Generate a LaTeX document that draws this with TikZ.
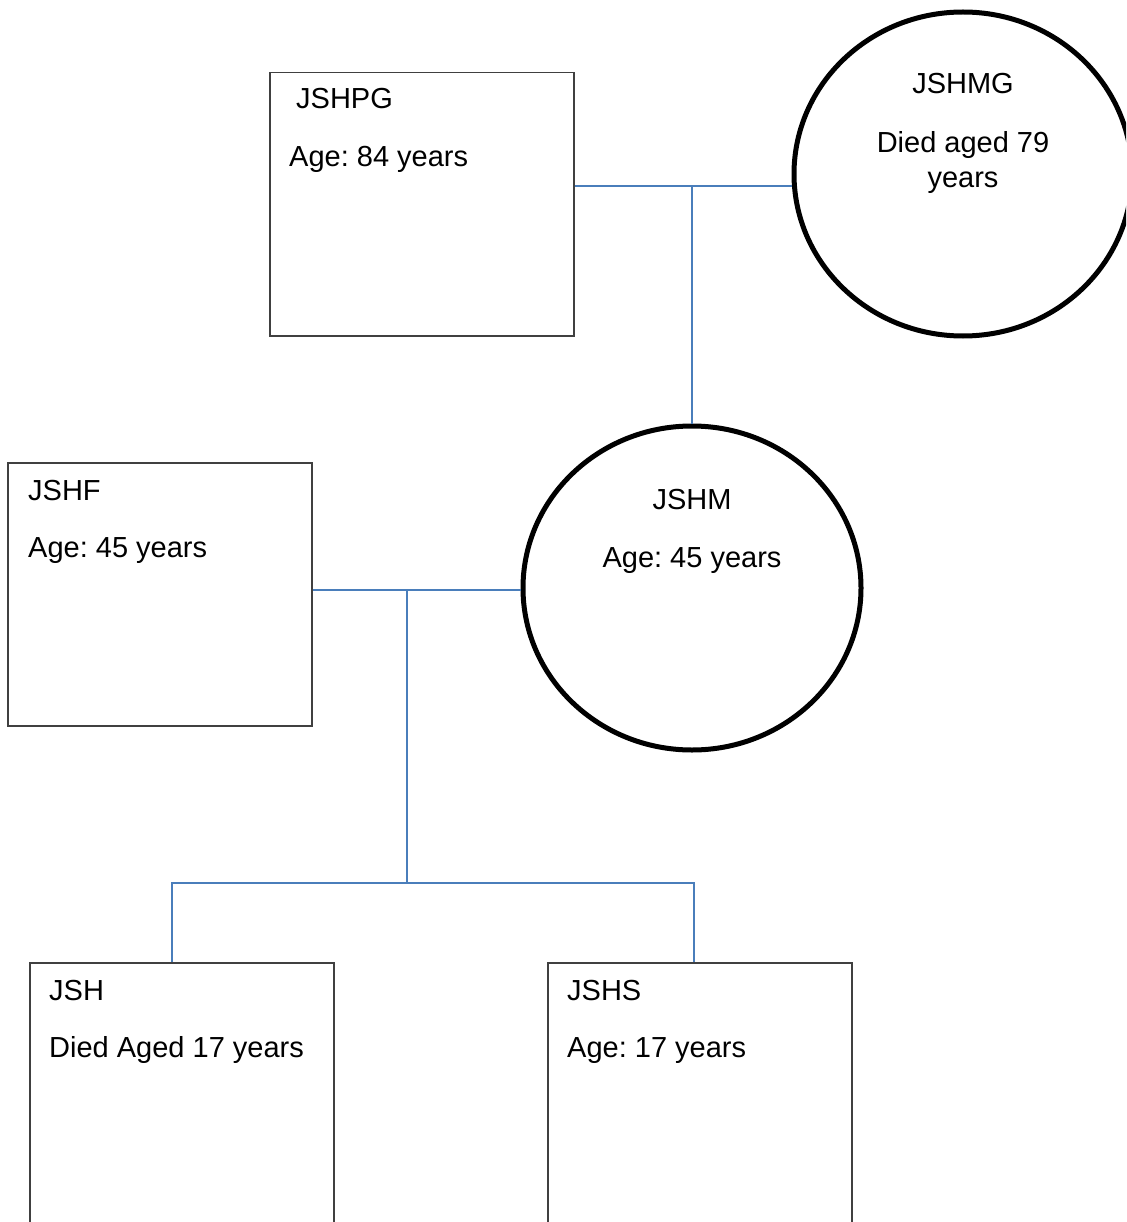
\documentclass[tikz,border=0pt]{standalone}
\usepackage{fontspec}
\setmainfont{Liberation Sans}
\usepackage{xcolor}
\usepackage{tikz}
\usetikzlibrary{shapes.geometric}
\frenchspacing
\definecolor{Linienblau}{RGB}{74,126,187}
\definecolor{Rahmengrau}{RGB}{64,64,64}
\tikzset{
  Kasten/.style={rectangle, draw=Rahmengrau, line width=1.5pt, anchor=north west,
    minimum width=304pt, minimum height=263pt, inner sep=0pt}, % für Männer
  Kreis/.style={ellipse, draw=black, line width=5pt,
    minimum width=338pt, minimum height=324pt, inner sep=0pt}, % für Frauen
  Text/.style={inner sep=0pt, font=\fontsize{29}{35}\selectfont}, % für Beschriftung
  Linie/.style={draw=Linienblau, line width=2pt} % für Verbindungen
}

\begin{document}
\begin{tikzpicture}[x=1pt, y=-1pt]
\useasboundingbox (0,0) rectangle (1126,1222);
\clip (0,0) rectangle (1126,1222);

%Personen
\node[Kasten] (JSHPG) at (269,72) {};
\node[Kreis] (JSHMG) at (963,174) {};
\node[Kasten] (JSHF) at (7,462) {};
\node[Kreis] (JSHM) at (692,588) {};
\node[Kasten] (JSH) at (29,962) {};
\node[Kasten] (JSHS) at (547,962) {};

%Beschriftung
\node[Text, anchor=base west] (JSHPG-Name) at ([shift={(27,37)}]JSHPG.north west) {JSHPG};
\node[Text, anchor=base west] (JSHPG-Alter) at ([shift={(20,95)}]JSHPG.north west) {Age: 84 years};
\node[Text, anchor=base] (JSHMG-Name) at ([shift={(0,-80)}]JSHMG.center) {JSHMG};
\node[Text, anchor=base] (JSHMG-Alter) at ([shift={(0,-21)}]JSHMG.center) {Died aged 79};
\node[Text, anchor=base] (JSHMG-Jahre) at ([shift={(0,14)}]JSHMG.center) {years};
\node[Text, anchor=base west] (JSHF-Name) at ([shift={(21,38)}]JSHF.north west) {JSHF};
\node[Text, anchor=base west] (JSHF-Alter) at ([shift={(21,95)}]JSHF.north west) {Age: 45 years};
\node[Text, anchor=base] (JSHM-Name) at ([shift={(0,-79)}]JSHM.center) {JSHM};
\node[Text, anchor=base] (JSHM-Alter) at ([shift={(0,-21)}]JSHM.center) {Age: 45 years};
\node[Text, anchor=base west] (JSH-Name) at ([shift={(20,38)}]JSH.north west) {JSH};
\node[Text, anchor=base west] (JSH-Alter) at ([shift={(20,95)}]JSH.north west) {Died Aged 17 years};
\node[Text, anchor=base west] (JSHS-Name) at ([shift={(20,38)}]JSHS.north west) {JSHS};
\node[Text, anchor=base west] (JSHS-Alter) at ([shift={(20,95)}]JSHS.north west) {Age: 17 years};

%Verbindungslinien
\coordinate (Paar1) at (692,186);
\coordinate (Paar2) at (407,590);
\coordinate (Kinder) at (407,883);
\draw[Linie] (JSHPG.east |- Paar1) -- (JSHMG.west |- Paar1);
\draw[Linie] (Paar1) -- (JSHM.north);
\draw[Linie] (JSHF.east |- Paar2) -- (JSHM.west |- Paar2);
\draw[Linie] (Paar2) -- (Kinder);
\draw[Linie] ([xshift=-10pt]JSH.north) |- (Kinder) -| ([xshift=-6pt]JSHS.north);

\end{tikzpicture}
\end{document}
